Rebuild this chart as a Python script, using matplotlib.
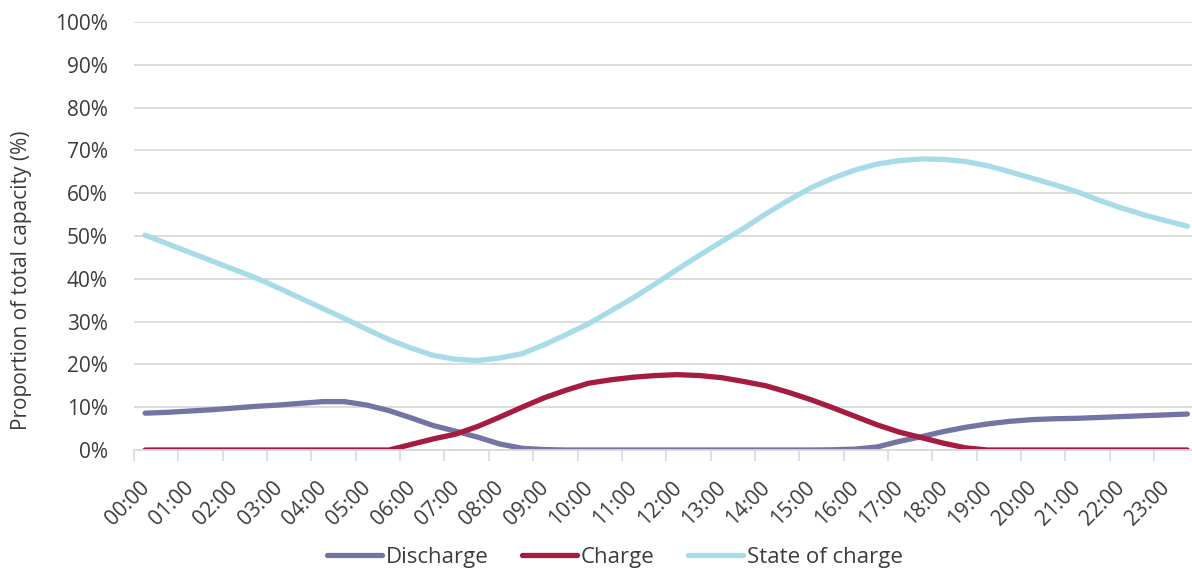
import matplotlib.pyplot as plt
import numpy as np
from matplotlib.transforms import ScaledTranslation

plt.rcParams['font.family'] = ['Open Sans', 'DejaVu Sans']

# -------------------------- data (half-hourly, % of capacity) --------------------------
hours = np.arange(0.25, 24, 0.5)
hour_labels = [f'{h:02d}:00' for h in range(24)]

discharge = [8.6, 8.8, 9.1, 9.4, 9.8, 10.2, 10.5, 10.9, 11.3, 11.3, 10.5, 9.2,
             7.5, 5.7, 4.4, 3.0, 1.4, 0.4, 0.1, 0.0, 0.0, 0.0, 0.0, 0.0,
             0.0, 0.0, 0.0, 0.0, 0.0, 0.0, 0.0, 0.05, 0.2, 0.7, 2.0, 3.1,
             4.3, 5.3, 6.1, 6.7, 7.1, 7.3, 7.4, 7.6, 7.8, 8.0, 8.2, 8.4]
charge = [0.0, 0.0, 0.0, 0.0, 0.0, 0.0, 0.0, 0.0, 0.0, 0.0, 0.0, 0.0,
          1.3, 2.6, 3.7, 5.5, 7.7, 10.0, 12.2, 14.0, 15.6, 16.4, 17.0, 17.4,
          17.6, 17.4, 16.9, 16.0, 15.0, 13.5, 11.8, 9.9, 7.9, 5.9, 4.2, 2.9,
          1.6, 0.5, 0.0, 0.0, 0.0, 0.0, 0.0, 0.0, 0.0, 0.0, 0.0, 0.0]
state_of_charge = [50.2, 48.2, 46.2, 44.2, 42.2, 40.2, 37.9, 35.5, 33.1, 30.7, 28.2, 25.8,
                   23.8, 22.1, 21.2, 20.9, 21.5, 22.5, 24.6, 27.0, 29.5, 32.5, 35.5, 38.8,
                   42.2, 45.5, 48.7, 51.8, 55.2, 58.3, 61.2, 63.5, 65.4, 66.8, 67.6, 68.0,
                   67.9, 67.4, 66.4, 65.0, 63.5, 62.0, 60.4, 58.4, 56.6, 55.0, 53.6, 52.3]

c_dis = '#7474a4'
c_chg = '#a51c40'
c_soc = '#a7dbe7'
txt = '#3c3c3c'
grid_c = '#d9d9d9'

# -------------------------- figure --------------------------
fig = plt.figure(figsize=(11.92, 5.71), dpi=100)
ax = fig.add_axes([134 / 1192, 1 - 450 / 571, 24 * 44.35 / 1192, 428 / 571])

ax.plot(hours, discharge, color=c_dis, lw=3.8, label='Discharge',
        solid_capstyle='round', solid_joinstyle='round')
ax.plot(hours, charge, color=c_chg, lw=3.8, label='Charge',
        solid_capstyle='round', solid_joinstyle='round')
ax.plot(hours, state_of_charge, color=c_soc, lw=3.8, label='State of charge',
        solid_capstyle='round', solid_joinstyle='round')

ax.set_xlim(0, 24)
ax.set_ylim(0, 100)
ax.set_yticks(np.arange(0, 101, 10))
ax.set_yticklabels([f'{v}%' for v in range(0, 101, 10)], fontsize=15, color=txt)
ax.tick_params(axis='y', length=0, pad=19)

ax.set_xticks(range(25))
ax.set_xticklabels(hour_labels + [''], fontsize=15, color=txt, rotation=45,
                   ha='right', va='center', rotation_mode='anchor')
ax.tick_params(axis='x', length=8, width=1.2, color=grid_c, pad=17)
offset = ScaledTranslation(0.12, 0, fig.dpi_scale_trans)
for lab in ax.get_xticklabels():
    lab.set_transform(lab.get_transform() + offset)

ax.grid(axis='y', color=grid_c, lw=1.3)
ax.set_axisbelow(True)
for s in ['top', 'right', 'left']:
    ax.spines[s].set_visible(False)
ax.spines['bottom'].set_color(grid_c)
ax.spines['bottom'].set_linewidth(1.3)

fig.text(22 / 1192, 1 - 280 / 571, 'Proportion of total capacity (%)', rotation=90,
         ha='center', va='center', fontsize=15, color=txt)

fig.legend(loc='center', bbox_to_anchor=(615 / 1192, 1 - 557 / 571), ncol=3,
           frameon=False, fontsize=16, labelcolor=txt, handlelength=2.45,
           handletextpad=0.2, columnspacing=1.5)

plt.savefig('out.png', dpi=100)
